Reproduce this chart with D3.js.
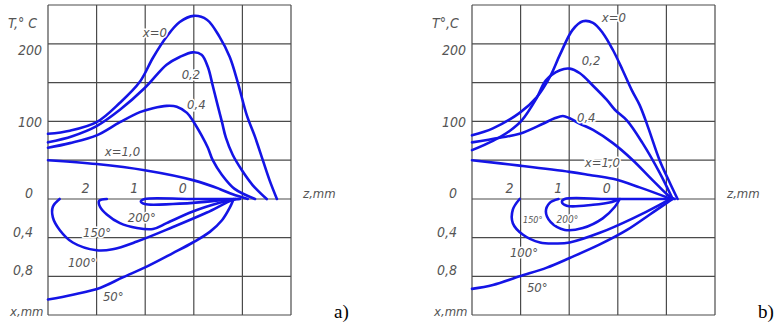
<!DOCTYPE html>
<html>
<head>
<meta charset="utf-8">
<script src="https://cdn.jsdelivr.net/npm/d3@7"></script>
<style>
  body { margin: 0; background: #fff; }
  text { font-family: "DejaVu Sans Condensed", "DejaVu Sans", sans-serif; font-stretch: condensed; font-style: italic; fill: #555; }
</style>
</head>
<body>
<svg id="chart" width="782" height="329"></svg>
<script>
// axes
const zTicks = [3, 2, 1, 0, -1, -2];
const tempTicks = [0, 50, 100, 150, 200, 250];
const depthTicks = [0.4, 0.8, 1.2];
const tempLabels = [100, 200];
const depthLabels = [0, 0.4, 0.8];
const zLabels = [2, 1, 0];

// a) temperature T(z) at depths x = 0, 0.2, 0.4, 1.0 mm  -> [z, T]
const aT00 = [[3, 84], [2.55, 88], [2, 99], [1.52, 124], [1.11, 151], [0.84, 182], [0.56, 209], [0.29, 228], [0, 236], [-0.27, 231], [-0.53, 209], [-0.74, 183], [-0.91, 149], [-1.09, 108], [-1.26, 80], [-1.42, 50], [-1.56, 24], [-1.71, 0]];
const aT02 = [[3, 73], [2.5, 81], [2, 94], [1.52, 115], [1.01, 143], [0.56, 173], [0.29, 183], [0.02, 189], [-0.16, 186], [-0.29, 170], [-0.39, 146], [-0.49, 121], [-0.58, 99], [-0.66, 79], [-0.8, 57], [-0.99, 37], [-1.21, 18], [-1.5, 0]];
const aT04 = [[3, 66], [2.55, 72], [2, 82], [1.52, 99], [1.11, 112], [0.84, 117], [0.56, 120], [0.35, 119], [0.14, 111], [0, 99], [-0.16, 82], [-0.29, 66], [-0.39, 50], [-0.58, 31], [-0.84, 13], [-1.26, 0]];
const aT10 = [[3, 50], [2, 45], [1.01, 37], [0, 24], [-0.53, 13], [-0.8, 6], [-1.11, 0]];
// a) isotherms -> [z, x]
const aIso200 = [[-0.95, 0], [0.08, 0], [1.01, 0], [1.09, 0.026], [1.01, 0.052], [0.43, 0.052], [-0.23, 0.03], [-0.78, 0]];
const aIso150 = [[1.79, 0], [1.95, 0.02], [1.93, 0.08], [1.79, 0.16], [1.52, 0.25], [1.17, 0.3], [0.84, 0.31], [0.56, 0.25], [0.02, 0.13], [-0.53, 0.04], [-0.86, 0]];
const aIso100 = [[2.76, 0], [2.9, 0.08], [2.9, 0.19], [2.76, 0.32], [2.49, 0.45], [2.0, 0.53], [1.67, 0.52], [1.17, 0.44], [0.43, 0.29], [-0.27, 0.14], [-0.8, 0.01], [-0.93, 0]];
const aIso50 = [[3, 1.04], [2.49, 0.99], [1.93, 0.92], [1.46, 0.81], [0.97, 0.7], [0.43, 0.56], [0.02, 0.45], [-0.33, 0.34], [-0.58, 0.22], [-0.74, 0.09], [-0.82, 0]];

// b)
const bT00 = [[3, 82], [2.57, 91], [2.02, 111], [1.67, 131], [1.4, 157], [1.19, 186], [0.93, 218], [0.72, 229], [0.51, 227], [0.31, 214], [0.1, 192], [-0.1, 166], [-0.29, 140], [-0.45, 121], [-0.62, 93], [-0.86, 50], [-1.07, 21], [-1.23, 0]];
const bT02 = [[3, 63], [2.57, 75], [2.22, 88], [1.98, 101], [1.67, 130], [1.48, 153], [1.19, 166], [0.99, 168], [0.78, 162], [0.51, 146], [0.23, 128], [0.06, 115], [-0.19, 101], [-0.51, 72], [-0.86, 34], [-1.13, 0]];
const bT04 = [[3, 73], [2.43, 79], [2.02, 84], [1.54, 97], [1.3, 104], [1.13, 107], [0.99, 104], [0.78, 97], [0.51, 89], [0.1, 72], [-0.31, 50], [-0.72, 24], [-1.07, 3], [-1.17, 0]];
const bT10 = [[3, 50], [2.02, 43], [0.99, 35], [0.58, 31], [0.1, 26], [-0.45, 15], [-1.1, 0]];
const bIso200 = [[-1.07, 0], [0.2, 0], [1.09, 0], [1.15, 0.03], [1.05, 0.07], [0.51, 0.06], [0.12, 0.03], [-0.04, 0]];
const bIso150 = [[1.22, 0], [1.4, 0.04], [1.48, 0.13], [1.38, 0.24], [1.09, 0.32], [0.72, 0.3], [0.31, 0.2], [0.06, 0.08], [-0.04, 0]];
const bIso100 = [[2.02, 0], [2.16, 0.11], [2.16, 0.25], [1.95, 0.37], [1.6, 0.45], [1.26, 0.46], [0.99, 0.45], [0.37, 0.35], [-0.31, 0.2], [-0.86, 0.06], [-1.07, 0]];
const bIso50 = [[3, 0.93], [2.57, 0.89], [2.02, 0.8], [1.46, 0.71], [0.99, 0.61], [0.37, 0.47], [-0.19, 0.32], [-0.66, 0.16], [-1.01, 0.04], [-1.13, 0]];

const svg = d3.select('#chart');
const yT = d3.scaleLinear().domain([0, 250]).range([199, 5]);
const yX = d3.scaleLinear().domain([0, 1.2]).range([199, 315]);
const fmt = v => String(v).replace('.', ',');
const blue = '#1414e6';

function draw(left, temps, isos, notes, tName, tag) {
  const z = d3.scaleLinear().domain([3, -2]).range([left, left + 243]);
  const g = svg.append('g');

  // grid
  g.append('g').selectAll('line')
    .data(zTicks)
    .join('line')
      .attr('x1', d => z(d)).attr('x2', d => z(d))
      .attr('y1', yT(250)).attr('y2', yX(1.2));
  g.append('g').selectAll('line')
    .data(tempTicks)
    .join('line')
      .attr('x1', z(3)).attr('x2', z(-2))
      .attr('y1', d => yT(d)).attr('y2', d => yT(d));
  g.append('g').selectAll('line')
    .data(depthTicks)
    .join('line')
      .attr('x1', z(3)).attr('x2', z(-2))
      .attr('y1', d => yX(d)).attr('y2', d => yX(d));
  g.selectAll('line').attr('stroke', '#4a4a4a').attr('stroke-width', 1.2);

  const lineT = d3.line().x(d => z(d[0])).y(d => yT(d[1])).curve(d3.curveCatmullRom.alpha(0.5));
  const lineX = d3.line().x(d => z(d[0])).y(d => yX(d[1])).curve(d3.curveCatmullRom.alpha(0.5));

  g.append('g').selectAll('path')
    .data(temps)
    .join('path')
      .attr('d', lineT);
  g.append('g').selectAll('path')
    .data(isos)
    .join('path')
      .attr('d', lineX);
  g.selectAll('path')
    .attr('fill', 'none').attr('stroke', blue).attr('stroke-width', 2.6)
    .attr('stroke-linejoin', 'round').attr('stroke-linecap', 'round');

  // tick labels
  g.append('g').attr('font-size', 14).attr('text-anchor', 'end')
    .selectAll('text')
    .data(tempLabels)
    .join('text')
      .attr('x', z(3) - 6)
      .attr('y', d => yT(d) + (d > 150 ? 11 : 6))
      .text(d => d);
  g.append('g').attr('font-size', 14).attr('text-anchor', 'end')
    .selectAll('text')
    .data(depthLabels)
    .join('text')
      .attr('x', z(3) - 15)
      .attr('y', d => yX(d) - 1)
      .text(fmt);
  g.append('g').attr('font-size', 14).attr('text-anchor', 'middle')
    .selectAll('text')
    .data(zLabels)
    .join('text')
      .attr('x', d => z(d) - 11)
      .attr('y', 193)
      .text(d => d);

  g.append('text').attr('font-size', 14).attr('x', z(3) - 40).attr('y', 28).text(tName);
  g.append('text').attr('font-size', 13).attr('x', z(3) - 38).attr('y', 316).text('x,mm');
  g.append('text').attr('font-size', 13).attr('x', z(-2) + 12).attr('y', 198).text('z,mm');
  g.append('text').attr('x', z(-2) + 43).attr('y', 318)
    .style('font-family', '"Liberation Serif", serif').style('font-style', 'normal')
    .style('fill', '#000').attr('font-size', 19).text(tag);

  // curve annotations
  g.append('g')
    .selectAll('text')
    .data(notes)
    .join('text')
      .attr('x', d => z(d.z))
      .attr('y', d => d.k === 'x' ? yX(d.v) : yT(d.v))
      .attr('font-size', d => d.size || 13)
      .attr('stroke', '#fff').attr('stroke-width', 3).attr('paint-order', 'stroke')
      .text(d => d.s);
}

draw(48, [aT00, aT02, aT04, aT10], [aIso200, aIso150, aIso100, aIso50], [
  { s: 'x=0', z: 1.05, v: 209 },
  { s: '0,2', z: 0.25, v: 155 },
  { s: '0,4', z: 0.14, v: 116 },
  { s: 'x=1,0', z: 1.83, v: 55 },
  { s: '200°', z: 1.36, v: 0.24, k: 'x' },
  { s: '150°', z: 2.28, v: 0.39, k: 'x' },
  { s: '100°', z: 2.59, v: 0.70, k: 'x' },
  { s: '50°', z: 1.87, v: 1.05, k: 'x' }
], 'T,° C', 'a)');

draw(472, [bT00, bT02, bT04, bT10], [bIso200, bIso150, bIso100, bIso50], [
  { s: 'x=0', z: 0.33, v: 228 },
  { s: '0,2', z: 0.74, v: 173 },
  { s: '0,4', z: 0.84, v: 99 },
  { s: 'x=1,0', z: 0.68, v: 41 },
  { s: '150°', z: 1.95, v: 0.25, k: 'x', size: 9 },
  { s: '200°', z: 1.26, v: 0.25, k: 'x', size: 10 },
  { s: '100°', z: 2.22, v: 0.60, k: 'x' },
  { s: '50°', z: 1.87, v: 0.96, k: 'x' }
], 'T°,C', 'b)');
</script>
</body>
</html>
